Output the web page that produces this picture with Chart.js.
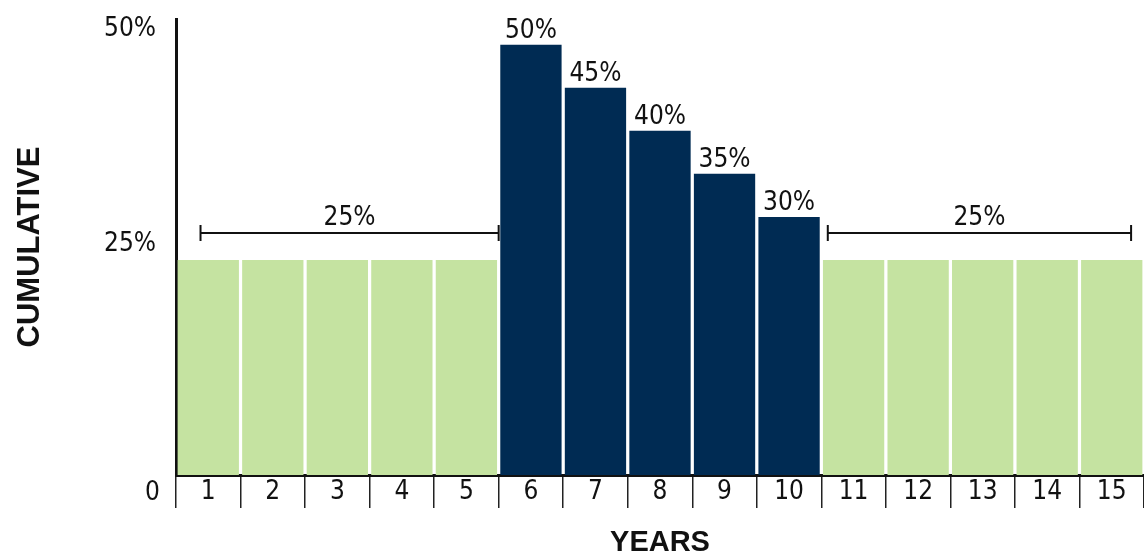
<!DOCTYPE html>
<html>
<head>
<meta charset="utf-8">
<script src="https://cdn.jsdelivr.net/npm/chart.js@4"></script>
<style>
  html, body { margin: 0; padding: 0; background: #fff; overflow: hidden; }
</style>
</head>
<body>
<canvas id="myChart" width="1144" height="560"></canvas>
<script>
const years = ['1', '2', '3', '4', '5', '6', '7', '8', '9', '10', '11', '12', '13', '14', '15'];
const rates = [25, 25, 25, 25, 25, 50, 45, 40, 35, 30, 25, 25, 25, 25, 25];
const baseRate = 25;
const yTicks = [25, 50];
const brackets = [
  { from: 0, to: 4, label: '25%' },
  { from: 10, to: 14, label: '25%' }
];

const narrow = '"DejaVu Sans Condensed", "Liberation Sans", sans-serif';
const navy = '#002b53';
const green = '#c5e3a1';

const barColors = rates.map(r => r > baseRate ? navy : green);

// value labels above the highlighted bars, the "0" under the origin and the 25% brackets
const annotations = {
  id: 'annotations',
  afterDatasetsDraw(chart) {
    const ctx = chart.ctx;
    const x = chart.scales.x;
    const y = chart.scales.y;
    const meta = chart.getDatasetMeta(0);
    ctx.save();
    ctx.fillStyle = '#111';
    ctx.font = '26px ' + narrow;
    ctx.textAlign = 'center';
    ctx.textBaseline = 'bottom';
    meta.data.forEach((bar, i) => {
      if (rates[i] > baseRate) {
        ctx.fillText(rates[i] + '%', bar.x, bar.y - 1);
      }
    });

    ctx.textAlign = 'right';
    ctx.textBaseline = 'middle';
    ctx.fillText('0', x.left - 16, y.getPixelForValue(0) + 18);

    const w = x.getPixelForValue(1) - x.getPixelForValue(0);
    const by = y.getPixelForValue(baseRate) - 27;
    ctx.strokeStyle = '#111';
    ctx.lineWidth = 2;
    brackets.forEach((b, k) => {
      const x0 = k === 0 ? x.getPixelForValue(b.from) - 0.12 * w : x.getPixelForValue(b.from) - 0.4 * w;
      const x1 = k === 0 ? x.getPixelForValue(b.to) + 0.5 * w : x.getPixelForValue(b.to) + 0.3 * w;
      ctx.beginPath();
      ctx.moveTo(x0, by);
      ctx.lineTo(x1, by);
      ctx.moveTo(x0, by - 8);
      ctx.lineTo(x0, by + 8);
      ctx.moveTo(x1, by - 8);
      ctx.lineTo(x1, by + 8);
      ctx.stroke();
      ctx.textAlign = 'center';
      ctx.textBaseline = 'bottom';
      ctx.fillText(b.label, (x0 + x1) / 2, by - 2);
    });
    ctx.restore();
  }
};

const ctx = document.getElementById('myChart').getContext('2d');

const myChart = new Chart(ctx, {
  type: 'bar',
  data: {
    labels: years,
    datasets: [{
      data: rates,
      backgroundColor: barColors,
      borderWidth: 0,
      barPercentage: 0.95,
      categoryPercentage: 1
    }]
  },
  options: {
    responsive: false,
    animation: false,
    layout: {
      padding: { left: 0, right: 0, top: 19, bottom: 0 }
    },
    scales: {
      x: {
        grid: {
          display: true,
          drawOnChartArea: false,
          offset: true,
          tickLength: 33,
          color: '#222',
          lineWidth: 1.5
        },
        border: { display: true, color: '#111', width: 3 },
        ticks: {
          color: '#111',
          padding: -31,
          font: { family: narrow, size: 26 }
        },
        title: {
          display: true,
          text: 'YEARS',
          color: '#111',
          padding: { top: 0, bottom: 0 },
          font: { family: 'Liberation Sans, Arial, sans-serif', size: 29, weight: 'bold' }
        },
        afterFit(scale) { scale.height = 85; }
      },
      y: {
        min: 0,
        max: 53,
        afterBuildTicks(scale) {
          scale.ticks = yTicks.map(v => ({ value: v }));
        },
        grid: { display: false },
        border: { display: true, color: '#111', width: 3 },
        ticks: {
          color: '#111',
          padding: 12,
          labelOffset: -16,
          font: { family: narrow, size: 26 },
          callback: v => v + '%'
        },
        title: {
          display: true,
          text: 'CUMULATIVE',
          color: '#111',
          padding: { top: 12, bottom: 0 },
          font: { family: 'Liberation Sans, Arial, sans-serif', size: 31, weight: 'bold' }
        },
        afterFit(scale) {
          scale.width = 176;
          scale.paddingTop = 0;
          scale.paddingBottom = 0;
        }
      }
    },
    plugins: {
      legend: { display: false },
      tooltip: { enabled: false }
    }
  },
  plugins: [annotations]
});
</script>
</body>
</html>
